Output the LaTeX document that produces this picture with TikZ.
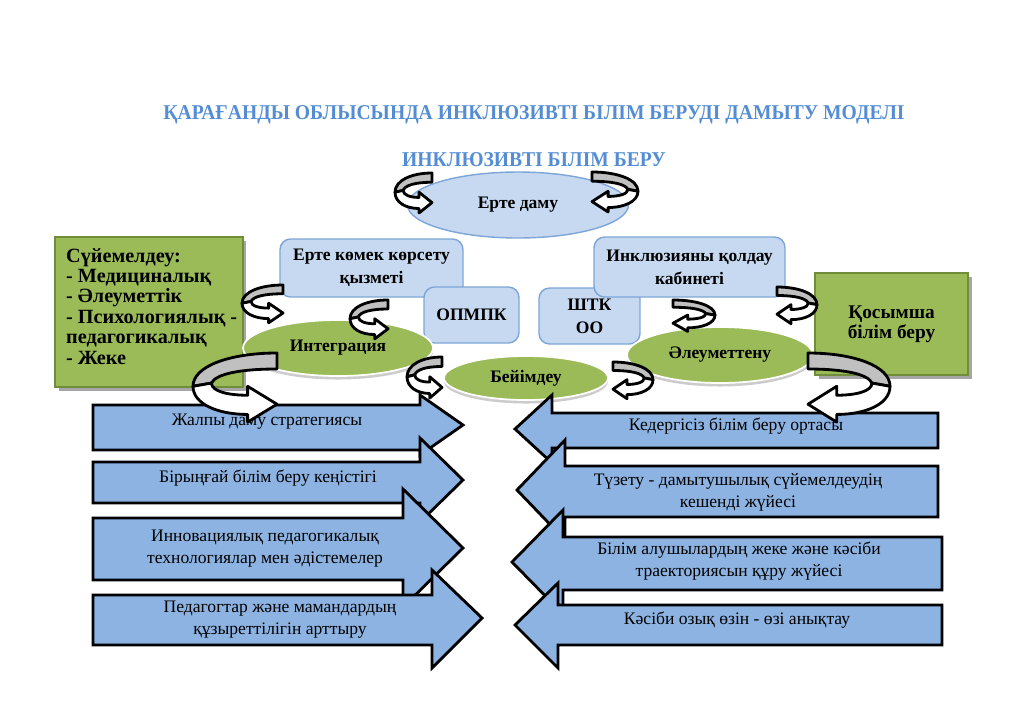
\documentclass[tikz,border=0pt]{standalone}
\usepackage{fontspec}
\setmainfont{Liberation Serif}
\usetikzlibrary{shapes.geometric,shadows}
\definecolor{titleblue}{RGB}{84,141,212}
\definecolor{paleblue}{RGB}{198,217,241}
\definecolor{boxline}{RGB}{125,165,215}
\definecolor{arrowblue}{RGB}{141,179,226}
\definecolor{leafgreen}{RGB}{155,187,89}
\definecolor{darkgreen}{RGB}{113,140,58}
\definecolor{bandgray}{RGB}{192,192,192}
\tikzset{
  turnarrow/.pic={
    \draw[line width=1.6pt,fill=bandgray,line join=round] (1,0) .. controls (0.45,0) and (0,0.2) .. (0,0.52)
      -- (0.22,0.47) .. controls (0.27,0.33) and (0.55,0.25) .. (1,0.25) -- cycle;
    \draw[line width=1.6pt,fill=white,line join=round] (0,0.52) .. controls (0,0.8) and (0.3,0.96) .. (0.65,0.96)
      -- (0.65,1.08) -- (1,0.8) -- (0.65,0.52) -- (0.65,0.66)
      .. controls (0.42,0.66) and (0.22,0.6) .. (0.22,0.47) -- cycle;
  }
}
\begin{document}
\begin{tikzpicture}[x=0.02cm,y=-0.02cm,
		oval/.style={ellipse,draw=boxline,fill=paleblue,line width=0.8pt,
			font=\bfseries\fontsize{10}{12}\selectfont},
		greenoval/.style={ellipse,draw=white,fill=leafgreen,line width=1pt,
			drop shadow={shadow xshift=0pt,shadow yshift=-2pt,fill=black!20,opacity=1},
			font=\bfseries\fontsize{10}{12}\selectfont},
		roundbox/.style={rectangle,rounded corners=6pt,draw=boxline,fill=paleblue,line width=0.8pt,
			align=center,font=\bfseries\fontsize{10}{13}\selectfont},
		greenbox/.style={rectangle,draw=darkgreen,fill=leafgreen,line width=1.5pt,
			drop shadow={shadow xshift=2pt,shadow yshift=-2pt,fill=black!35,opacity=1}},
		arrowbody/.style={draw=black,fill=arrowblue,line width=1.6pt,line join=miter},
		arrowtext/.style={align=center,font=\fontsize{10}{12.5}\selectfont},
		headline/.style={text=titleblue,xscale=0.93,font=\bfseries\fontsize{12}{14}\selectfont}
		]
		\useasboundingbox (0,0) rectangle (1024,724);
		
		% titles
		\node[headline](T1) at (534,115){ҚАРАҒАНДЫ ОБЛЫСЫНДА ИНКЛЮЗИВТІ БІЛІМ БЕРУДІ ДАМЫТУ МОДЕЛІ};
		\node[headline](T2) at (534,160){ИНКЛЮЗИВТІ БІЛІМ БЕРУ};
		
		% upper blue part
		\node[oval, minimum width=4.42cm, minimum height=1.32cm](E0) at (518,205){Ерте даму};
		\node[roundbox, minimum width=3.66cm, minimum height=1.16cm](B1) at (371.5,268){Ерте көмек көрсету\\қызметі};
		\node[roundbox, minimum width=1.9cm, minimum height=1.12cm](B2) at (471.5,315){ОПМПК};
		\node[roundbox, minimum width=2.02cm, minimum height=1.12cm](B3) at (589.5,316){ШТК\\ОО};
		\node[roundbox, minimum width=3.82cm, minimum height=1.2cm](B4) at (689.5,267){Инклюзияны қолдау\\кабинеті};
		
		% green boxes
		\node[greenbox, minimum width=3.76cm, minimum height=3cm](G1) at (149,312){};
		\node[anchor=north west,align=left,font=\bfseries\fontsize{11.5}{11.6}\selectfont](G1t) at (60,242)
		{Сүйемелдеу:\\- Медициналық\\- Әлеуметтік\\- Психологиялық -\\педагогикалық\\- Жеке};
		\node[greenbox, minimum width=3.06cm, minimum height=2.04cm, align=center,
		font=\bfseries\fontsize{11}{11.5}\selectfont](G2) at (891.5,324){Қосымша\\білім беру};
		
		% green ovals
		\node[greenoval, minimum width=3.8cm, minimum height=1.12cm](O1) at (338,348){Интеграция};
		\node[greenoval, minimum width=3.28cm, minimum height=0.88cm](O2) at (526,378){Бейімдеу};
		\node[greenoval, minimum width=3.72cm, minimum height=1.12cm](O3) at (720,355){Әлеуметтену};
		
		% arrows to the right
		\draw[arrowbody] (93,405) -- (420,405) -- (420,395) -- (463,425) -- (420,455) -- (420,450) -- (93,450) -- cycle;
		\draw[arrowbody] (93,462) -- (420,462) -- (420,438) -- (463,480) -- (420,522) -- (420,503) -- (93,503) -- cycle;
		\draw[arrowbody] (93,518) -- (403,518) -- (403,489) -- (463,548) -- (403,607) -- (403,580) -- (93,580) -- cycle;
		\draw[arrowbody] (93,595) -- (432,595) -- (432,570) -- (482,618) -- (432,668) -- (432,645) -- (93,645) -- cycle;
		
		% arrows to the left
		\draw[arrowbody] (938,413) -- (552,413) -- (552,395) -- (515,429) -- (552,463) -- (552,448) -- (938,448) -- cycle;
		\draw[arrowbody] (938,466) -- (565,466) -- (565,440) -- (517,490) -- (565,540) -- (565,517) -- (938,517) -- cycle;
		\draw[arrowbody] (942,537) -- (563,537) -- (563,510) -- (512,562) -- (563,614) -- (563,590) -- (942,590) -- cycle;
		\draw[arrowbody] (942,605) -- (558,605) -- (558,583) -- (515,625) -- (558,668) -- (558,645) -- (942,645) -- cycle;
		
		% arrow texts
		\node[arrowtext](L1) at (267,422){Жалпы даму стратегиясы};
		\node[arrowtext](L2) at (268,478){Бірыңғай білім беру кеңістігі};
		\node[arrowtext](L3) at (265,549){Инновациялық педагогикалық\\технологиялар мен әдістемелер};
		\node[arrowtext](L4) at (280,620){Педагогтар және мамандардың\\құзыреттілігін арттыру};
		\node[arrowtext](R1) at (736,426){Кедергісіз білім беру ортасы};
		\node[arrowtext](R2) at (738,492){Түзету - дамытушылық сүйемелдеудің\\кешенді жүйесі};
		\node[arrowtext](R3) at (739,561){Білім алушылардың жеке және кәсіби\\траекториясын құру жүйесі};
		\node[arrowtext](R4) at (737,620){Кәсіби озық өзін - өзі анықтау};
		
		% curved arrows
		\path (395,173) pic[xscale=37,yscale=37]{turnarrow};
		\path (638,172) pic[xscale=-46,yscale=37]{turnarrow};
		\path (242,285) pic[xscale=41,yscale=35]{turnarrow};
		\path (350,300) pic[xscale=38,yscale=36]{turnarrow};
		\path (407,357) pic[xscale=35,yscale=38]{turnarrow};
		\path (193,353) pic[xscale=84,yscale=64]{turnarrow};
		\path (715,300) pic[xscale=-42,yscale=29]{turnarrow};
		\path (817,287) pic[xscale=-40,yscale=34]{turnarrow};
		\path (653,362) pic[xscale=-40,yscale=34]{turnarrow};
		\path (890,353) pic[xscale=-82,yscale=64]{turnarrow};
	\end{tikzpicture}
\end{document}
